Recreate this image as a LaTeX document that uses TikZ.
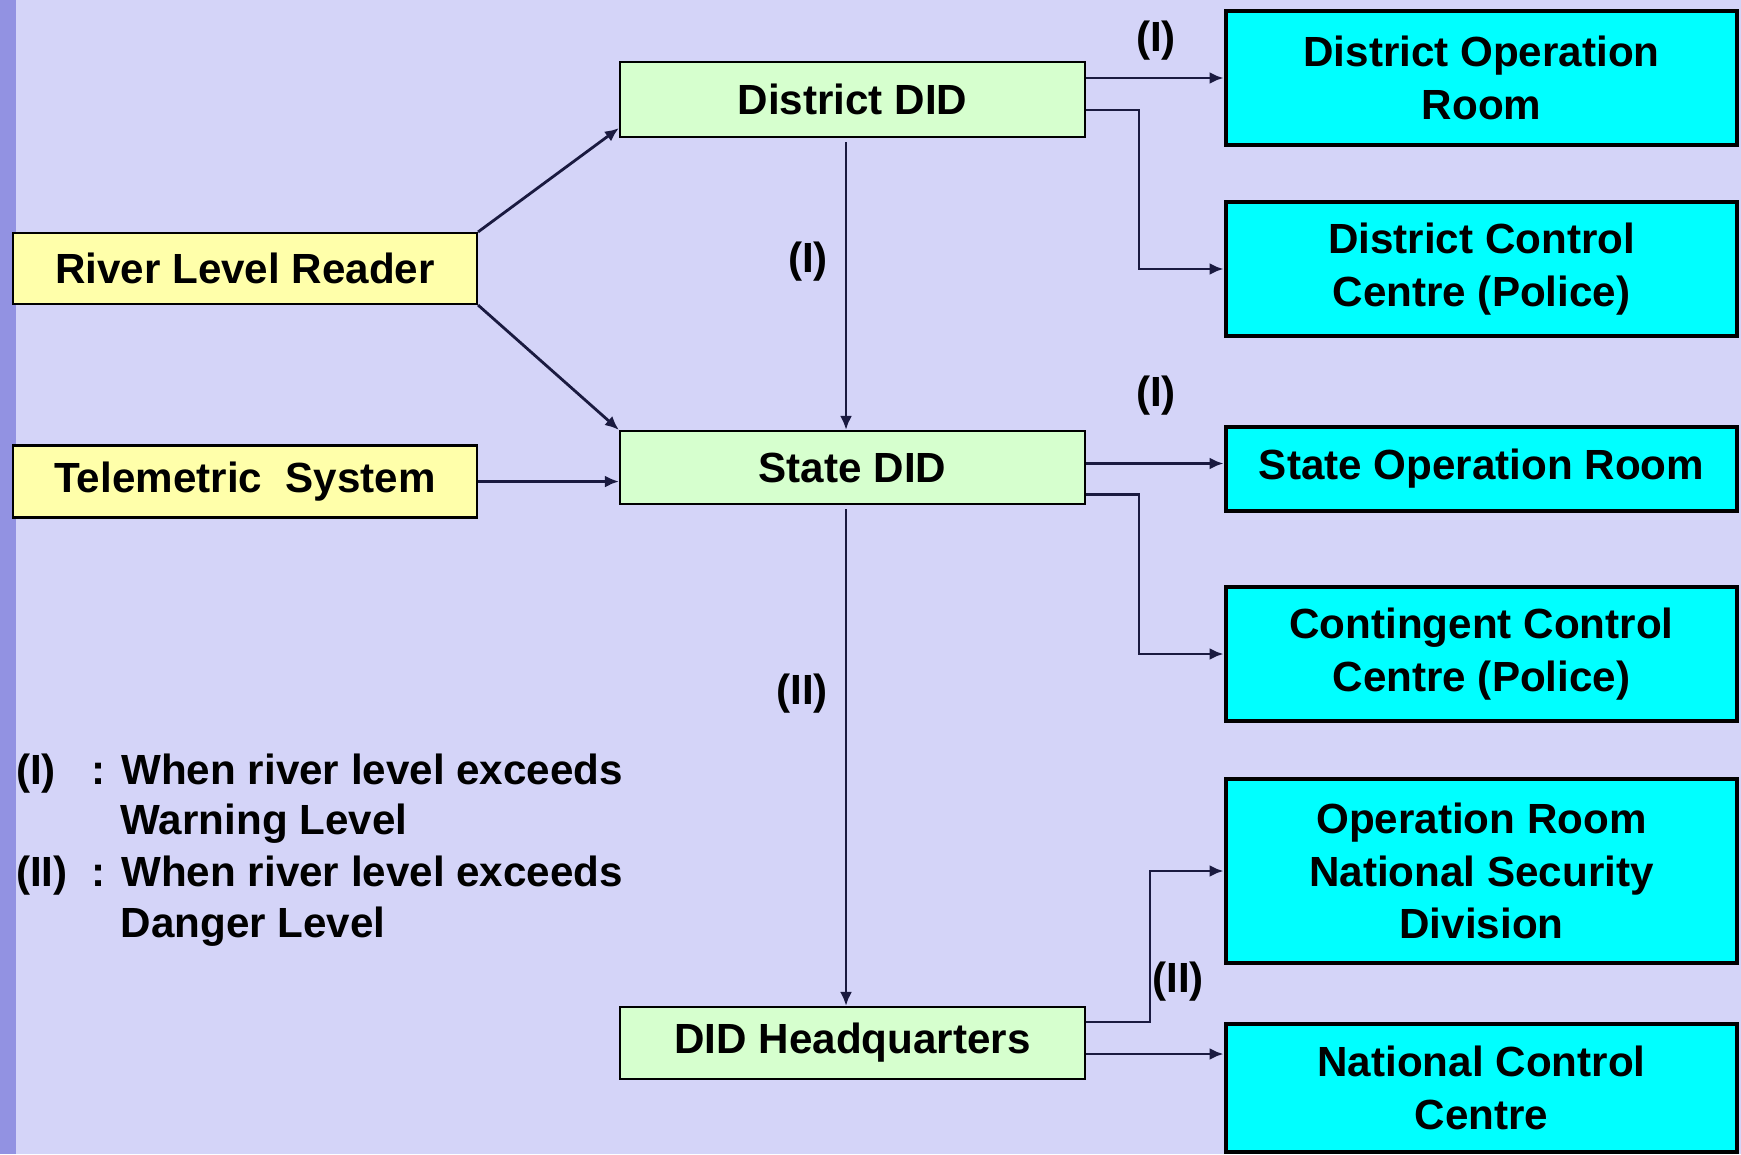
\documentclass[tikz,border=0pt]{standalone}
\usepackage{fontspec}
\setmainfont{Liberation Sans}
\usetikzlibrary{arrows.meta,positioning}

\definecolor{bgcol}{RGB}{212,212,248}
\definecolor{stripcol}{RGB}{146,146,226}
\definecolor{srcyellow}{RGB}{255,255,170}
\definecolor{didgreen}{RGB}{214,255,206}
\definecolor{roomcyan}{RGB}{0,255,255}
\definecolor{linecol}{RGB}{26,26,64}

\begin{document}
\begin{tikzpicture}[
    every node/.style={font=\fontsize{12}{15}\selectfont\bfseries},
    srcbox/.style={draw, line width=0.6pt, fill=srcyellow, inner sep=0pt,
        minimum width=4.64cm, minimum height=0.71cm},
    didbox/.style={draw, line width=0.6pt, fill=didgreen, inner sep=0pt,
        minimum width=4.65cm, minimum height=0.73cm},
    roombox/.style={draw, line width=1.4pt, fill=roomcyan, inner sep=0pt,
        minimum width=5.11cm, align=center},
    link/.style={draw=linecol, line width=0.8pt, -{Latex[length=1.4mm,width=1.2mm]}},
    lbl/.style={inner sep=1pt}
]
    % Background
    \useasboundingbox (0,0) rectangle (17.41,-11.54);
    \fill[bgcol] (0,0) rectangle (17.41,-11.54);
    \fill[stripcol] (0,0) rectangle (0.16,-11.54);

    % Sources
    \node[srcbox] (rlr) at (2.45,-2.685) {River Level Reader};
    \node[srcbox, minimum height=0.72cm] (tele) at (2.45,-4.815) {Telemetric\ \ System};

    % DID offices
    \node[didbox, minimum height=0.75cm] (ddid) at (8.525,-0.995) {District DID};
    \node[didbox] (sdid) at (8.525,-4.675) {State DID};
    \node[didbox, minimum height=0.72cm] (hq) at (8.525,-10.43) {DID Headquarters};

    % Rooms and centres
    \node[roombox, minimum height=1.34cm] (dor) at (14.815,-0.78) {District Operation\\Room};
    \node[roombox, minimum height=1.34cm] (dcc) at (14.815,-2.69) {District Control\\Centre (Police)};
    \node[roombox, minimum height=0.84cm] (sor) at (14.815,-4.69) {State Operation Room};
    \node[roombox, minimum height=1.34cm] (ccc) at (14.815,-6.54) {Contingent Control\\Centre (Police)};
    \node[roombox, minimum height=1.84cm] (ornsd) at (14.815,-8.71) {Operation Room\\National Security\\Division};
    \node[roombox, minimum height=1.28cm] (ncc) at (14.815,-10.88) {National Control\\Centre};

    % Readers to DID
    \draw[link] (rlr.north east) -- ([yshift=1mm]ddid.south west);
    \draw[link] (rlr.south east) -- (sdid.north west);
    \draw[link] (tele.east) -- (tele.east -| sdid.west);

    % Down the chain
    \draw[link] ([xshift=-0.65mm,yshift=-0.4mm]ddid.south) -- ([xshift=-0.65mm]sdid.north);
    \draw[link] ([xshift=-0.65mm,yshift=-0.4mm]sdid.south) -- ([xshift=-0.65mm]hq.north);
    \node[lbl] (lvone) at (8.08,-2.62) {(I)};
    \node[lbl] (lvtwo) at (8.02,-6.94) {(II)};

    % District level
    \draw[link] (ddid.east |- dor.west) -- (dor.west);
    \draw[link] ([yshift=-1.05mm]ddid.east) -- ++(0.53,0) |- (dcc.west);
    \node[lbl] (ldone) at (11.56,-0.41) {(I)};

    % State level
    \coordinate (sdidout) at ([yshift=0.4mm]sdid.east);
    \draw[link] (sdidout) -- (sdidout -| sor.west);
    \draw[link] ([yshift=-2.7mm]sdid.east) -- ++(0.53,0) |- (ccc.west);
    \node[lbl] (lsone) at (11.56,-3.96) {(I)};

    % National level
    \coordinate (hqout) at ([yshift=-1.1mm]hq.east);
    \draw[link] ([yshift=2.1mm]hq.east) -- ++(0.64,0) |- (ornsd.west);
    \draw[link] (hqout) -- (hqout -| ncc.west);
    \node[lbl] (lntwo) at (11.78,-9.82) {(II)};

    % Legend
    \node[anchor=base west, inner sep=0pt] (lgone) at (0.155,-7.84) {(I)};
    \node[anchor=base west, inner sep=0pt] (lgonetxt) at (0.91,-7.84) {: When river level exceeds};
    \node[anchor=base west, inner sep=0pt] (lgonemore) at (1.2,-8.34) {Warning Level};
    \node[anchor=base west, inner sep=0pt] (lgtwo) at (0.155,-8.86) {(II)};
    \node[anchor=base west, inner sep=0pt] (lgtwotxt) at (0.91,-8.86) {: When river level exceeds};
    \node[anchor=base west, inner sep=0pt] (lgtwomore) at (1.2,-9.37) {Danger Level};
\end{tikzpicture}
\end{document}
